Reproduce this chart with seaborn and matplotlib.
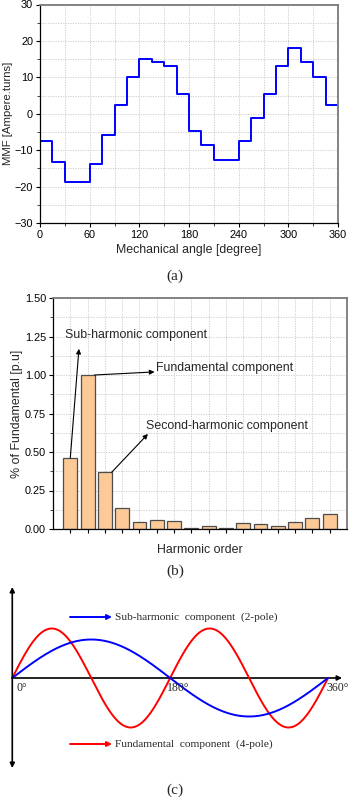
import numpy as np
import pandas as pd
import matplotlib
matplotlib.use("Agg")
import matplotlib.pyplot as plt
from matplotlib.ticker import MultipleLocator, FormatStrFormatter
import seaborn as sns

# ---------------- data ----------------
# (a) stepped MMF distribution, one value per 15-degree slot
slot_start_deg = [0, 15, 30, 45, 60, 75, 90, 105, 120, 135, 150, 165,
                  180, 195, 210, 225, 240, 255, 270, 285, 300, 315, 330, 345]
mmf_values = [-7.6, -13.2, -18.7, -18.7, -13.7, -5.7, 2.5, 10.0, 15.0, 14.1, 13.0, 5.4,
              -4.6, -8.6, -12.7, -12.7, -7.6, -1.1, 5.4, 13.0, 18.1, 14.1, 10.0, 2.5]

# (b) harmonic spectrum normalised to the fundamental
harmonic_order = [str(i) for i in range(1, 17)]
harmonic_pu = [0.461, 1.000, 0.368, 0.136, 0.048, 0.061, 0.054, 0.006,
               0.017, 0.005, 0.039, 0.032, 0.022, 0.043, 0.074, 0.100]

# (c) schematic waves: pole count and drawn amplitude
sub_poles, sub_amp = 2, 38.5
fund_poles, fund_amp = 4, 49.5

# ---------------- styling ----------------
sns.set_style("white")
plt.rcParams["font.family"] = ["Liberation Sans", "DejaVu Sans"]
SERIF = ["Liberation Serif", "DejaVu Serif"]
TICK_FS = 7.8
LABEL_FS = 8.9
GRID = dict(color="#c8c8c8", linestyle=(0, (1.5, 1.5)), linewidth=0.6)

W, H = 349, 800
fig = plt.figure(figsize=(W / 100, H / 100), dpi=100)


def frac_axes(left, top, right, bottom):
    return fig.add_axes([left / W, 1 - bottom / H, (right - left) / W, (bottom - top) / H])


def frame(ax):
    for side in ("left", "bottom"):
        ax.spines[side].set_color("black")
        ax.spines[side].set_linewidth(0.9)
    for side in ("top", "right"):
        ax.spines[side].set_color("#7a7a7a")
        ax.spines[side].set_linewidth(1.3)
    ax.tick_params(which="major", direction="out", length=3, width=0.8,
                   labelsize=TICK_FS, pad=2, colors="black",
                   left=True, bottom=True, top=False, right=False)
    ax.tick_params(which="minor", direction="out", length=2, width=0.6,
                   left=True, bottom=True, top=False, right=False)
    ax.grid(True, which="both", **GRID)
    ax.set_axisbelow(True)


# ---------------- (a) MMF ----------------
ax_a = frac_axes(40, 4.5, 338, 223)
df_a = pd.DataFrame({"angle": slot_start_deg + [360],
                     "mmf": mmf_values + [mmf_values[-1]]})
sns.lineplot(data=df_a, x="angle", y="mmf", drawstyle="steps-post",
             color="#0000ff", linewidth=1.4, ax=ax_a)
ax_a.set_xlim(0, 360)
ax_a.set_ylim(-30, 30)
ax_a.xaxis.set_major_locator(MultipleLocator(60))
ax_a.xaxis.set_minor_locator(MultipleLocator(30))
ax_a.yaxis.set_major_locator(MultipleLocator(10))
ax_a.yaxis.set_minor_locator(MultipleLocator(5))
frame(ax_a)
ax_a.set_xlabel("Mechanical angle [degree]", fontsize=LABEL_FS, labelpad=3)
ax_a.set_ylabel("MMF [Ampere.turns]", fontsize=8.2, labelpad=1)
fig.text(175 / W, 1 - 276 / H, "(a)", family=SERIF, fontsize=11,
         ha="center", va="center")

# ---------------- (b) spectrum ----------------
ax_b = frac_axes(53, 298, 347, 529)
df_b = pd.DataFrame({"order": harmonic_order, "pu": harmonic_pu})
sns.barplot(data=df_b, x="order", y="pu", color="#fdc997", edgecolor="#4d4d4d",
            linewidth=0.9, width=0.8, saturation=1, ax=ax_b)
ax_b.set_xlim(-1, 16)
ax_b.set_ylim(0, 1.5)
ax_b.set_xticks(range(len(harmonic_order)))
ax_b.set_xticklabels([])
ax_b.yaxis.set_major_locator(MultipleLocator(0.25))
ax_b.yaxis.set_minor_locator(MultipleLocator(0.125))
ax_b.yaxis.set_major_formatter(FormatStrFormatter("%.2f"))
frame(ax_b)
ax_b.tick_params(axis="x", which="minor", bottom=False)
ax_b.set_xlabel("Harmonic order", fontsize=LABEL_FS, labelpad=6)
ax_b.set_ylabel("% of Fundamental [p.u]", fontsize=LABEL_FS, labelpad=1)

arrow = dict(arrowstyle="-|>", color="black", lw=0.8, mutation_scale=7,
             shrinkA=0, shrinkB=0)
ax_b.annotate("", xy=(0.5, 1.17), xytext=(0, harmonic_pu[0]), arrowprops=arrow)
ax_b.text(-0.33, 1.26, "Sub-harmonic component", fontsize=LABEL_FS,
          ha="left", va="center")
ax_b.annotate("", xy=(4.87, 1.02), xytext=(1.4, harmonic_pu[1]), arrowprops=arrow)
ax_b.text(4.93, 1.045, "Fundamental component", fontsize=LABEL_FS,
          ha="left", va="center")
ax_b.annotate("", xy=(4.49, 0.617), xytext=(2.39, harmonic_pu[2]), arrowprops=arrow)
ax_b.text(4.4, 0.67, "Second-harmonic component", fontsize=LABEL_FS,
          ha="left", va="center")
fig.text(175 / W, 1 - 571 / H, "(b)", family=SERIF, fontsize=11,
         ha="center", va="center")

# ---------------- (c) schematic ----------------
ax_c = frac_axes(0, 580, 349, 775)
ax_c.axis("off")

theta = np.linspace(0, 360, 721)
df_c = pd.DataFrame({
    "theta": np.concatenate([theta, theta]),
    "value": np.concatenate([sub_amp * np.sin(np.radians(theta) * sub_poles / 2),
                             fund_amp * np.sin(np.radians(theta) * fund_poles / 2)]),
    "wave": ["sub"] * len(theta) + ["fund"] * len(theta),
})
sns.lineplot(data=df_c, x="theta", y="value", hue="wave",
             palette={"sub": "#0000ff", "fund": "#ff0000"},
             hue_order=["fund", "sub"], linewidth=1.4, legend=False, ax=ax_c)
ax_c.set_xlim(-14.0, 383.9)
ax_c.set_ylim(-97, 98)

axis_arrow = dict(arrowstyle="-|>", color="black", lw=1.2, mutation_scale=7,
                  shrinkA=0, shrinkB=0)
ax_c.annotate("", xy=(376, 0), xytext=(0, 0), arrowprops=axis_arrow, zorder=1)
ax_c.annotate("", xy=(0, 91), xytext=(0, -90),
              arrowprops=dict(arrowstyle="<|-|>", color="black", lw=1.2,
                              mutation_scale=7, shrinkA=0, shrinkB=0))
for x, label in [(5.0, "0\u00b0"), (176.0, "180\u00b0"), (358.0, "360\u00b0")]:
    ax_c.text(x, -10, label, family=SERIF, fontsize=8.5, ha="left", va="center")

key_arrow_blue = dict(arrowstyle="-|>", color="#0000ff", lw=1.4, mutation_scale=7,
                      shrinkA=0, shrinkB=0)
key_arrow_red = dict(key_arrow_blue, color="#ff0000")
ax_c.annotate("", xy=(113.7, 61), xytext=(65.8, 61), arrowprops=key_arrow_blue)
ax_c.text(117, 61, "Sub-harmonic  component  (2-pole)", family=SERIF,
          fontsize=8.2, ha="left", va="center")
ax_c.annotate("", xy=(113.7, -66), xytext=(65.8, -66), arrowprops=key_arrow_red)
ax_c.text(117, -66, "Fundamental  component  (4-pole)", family=SERIF,
          fontsize=8.2, ha="left", va="center")
fig.text(175 / W, 1 - 790 / H, "(c)", family=SERIF, fontsize=11,
         ha="center", va="center")

fig.savefig("out.png", dpi=100)
